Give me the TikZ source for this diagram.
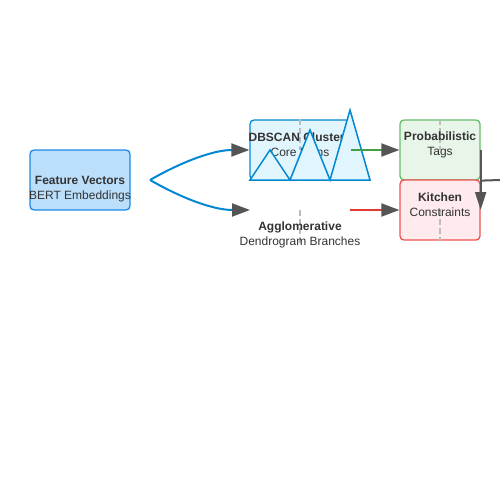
\documentclass[tikz,border=0pt]{standalone}
\usepackage{fontspec}
\setmainfont{Liberation Sans}
\usetikzlibrary{arrows.meta}
\definecolor{txt}{HTML}{333333}
\definecolor{arr}{HTML}{555555}
\definecolor{fvfill}{HTML}{BBDEFB}
\definecolor{fvdraw}{HTML}{1E88E5}
\definecolor{dbfill}{HTML}{E1F5FE}
\definecolor{dbdraw}{HTML}{0288D1}
\definecolor{pfill}{HTML}{E8F5E9}
\definecolor{pdraw}{HTML}{66BB6A}
\definecolor{kfill}{HTML}{FFEBEE}
\definecolor{kdraw}{HTML}{EF5350}
\definecolor{gline}{HTML}{43A047}
\definecolor{rline}{HTML}{E53935}
\definecolor{dashc}{HTML}{BDBDBD}
\begin{document}
\begin{tikzpicture}[x=1pt,y=-1pt,
  box/.style={draw, line width=1.3pt, rounded corners=4pt, inner sep=0pt, minimum height=60pt},
  lbl/.style={text=txt, font=\fontsize{12}{15}\selectfont, align=center, inner sep=0pt},
  guide/.style={draw=dashc, line width=1.5pt, dash pattern=on 6pt off 3pt},
  tip/.style={-{Triangle[length=18pt,width=13pt,color=arr,fill=arr]}},
  conn/.style={line width=2pt, tip}
]
\useasboundingbox (0,0) rectangle (500,500);

% boxes
\node[box, draw=fvdraw, fill=fvfill, minimum width=100pt] (fv) at (80,180) {};
\node[box, draw=dbdraw, fill=dbfill, minimum width=100pt] (dbs) at (300,150) {};
\node[box, draw=pdraw, fill=pfill, minimum width=80pt] (prob) at (440,150) {};
\node[box, draw=kdraw, fill=kfill, minimum width=80pt] (kit) at (440,210) {};
\coordinate (aggC) at (300,210);
\coordinate (aggW) at (250,210);
\coordinate (aggE) at (350,210);
\coordinate (aggS) at (300,246);
\coordinate (fvOut) at (150,180);
\coordinate (offR) at (500,180);

% guide lines
\draw[guide] (dbs.north) -- (dbs.center);
\draw[guide] (prob.north) -- (prob.center);
\draw[guide] (kit.center) -- (kit.south);
\draw[guide] (aggC) -- (aggS);

% labels
\node[lbl] (fvl) at (80,189.5) {\textbf{Feature Vectors}\\BERT Embeddings};
\node[lbl] (dbl) at (300,144.5) {\textbf{DBSCAN Clusters}\\Core Items};
\node[lbl] (pl) at (440,144.5) {\textbf{Probabilistic}\\Tags};
\node[lbl] (kl) at (440,204.5) {\textbf{Kitchen}\\Constraints};
\node[lbl] (al) at (300,234.5) {\textbf{Agglomerative}\\Dendrogram Branches};

% mountain shape over the DBSCAN box
\draw[draw=dbdraw, fill=dbfill, line width=1.5pt, line join=miter]
  (250,180) -- (270,150) -- (290,180) -- (310,130) -- (330,180) -- (350,110) -- (370,180) -- cycle;

% connectors
\draw[conn, draw=dbdraw] (fvOut) .. controls (185,160) and (215,150) .. (dbs.west);
\draw[conn, draw=dbdraw] (fvOut) .. controls (185,200) and (215,210) .. (aggW);
\draw[conn, draw=gline] (dbs.east) -- (prob.west);
\draw[conn, draw=rline] (aggE) -- (kit.west);
\draw[line width=2pt, draw=arr, -{Triangle[length=18pt,width=11pt,color=arr,fill=arr]}] (prob.east) -- (kit.east);
\draw[line width=2pt, draw=arr] (prob.south east) -- (offR);
\end{tikzpicture}
\end{document}
